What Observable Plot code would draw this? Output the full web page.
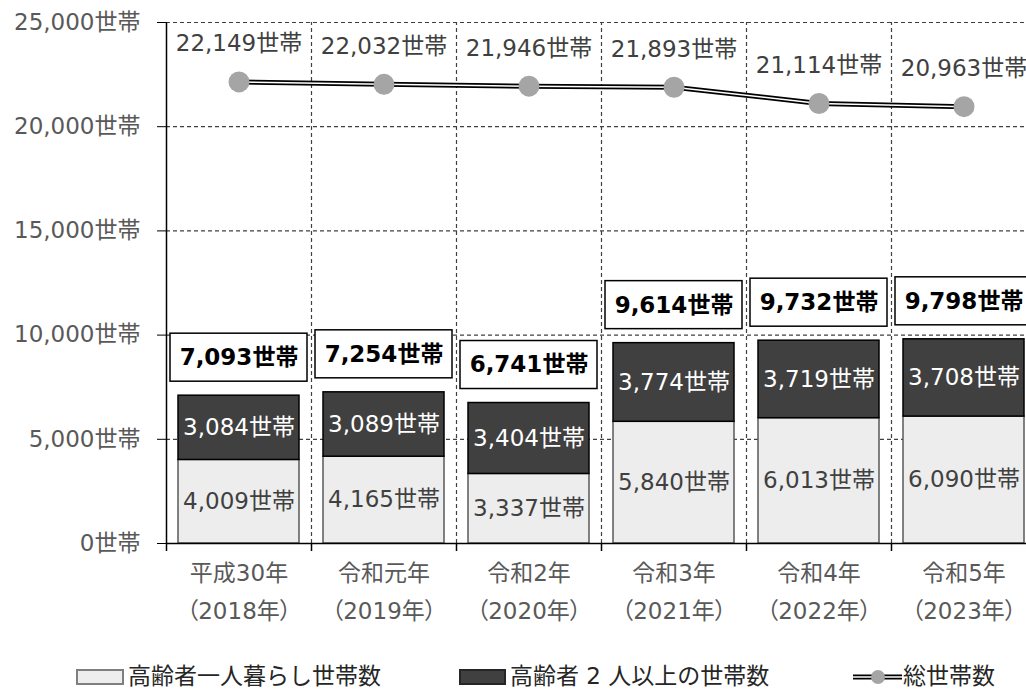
<!DOCTYPE html>
<html>
<head>
<meta charset="utf-8">
<script src="https://cdn.jsdelivr.net/npm/d3@7"></script>
<script src="https://cdn.jsdelivr.net/npm/@observablehq/plot@0.6"></script>
<style>
  body { margin: 0; background: white; }
  #wrap { position: relative; width: 1026px; height: 690px; overflow: hidden; font-family: 'DejaVu Sans', 'Noto Sans CJK JP', sans-serif; }
  .lg { position: absolute; font-size: 23px; color: #262626; font-family: 'DejaVu Sans', 'Noto Sans CJK JP', sans-serif; line-height: 1; white-space: nowrap; }
  .sw { position: absolute; box-sizing: border-box; }
</style>
</head>
<body>
<div id="wrap"></div>
<script>
const categories = ["平成30年", "令和元年", "令和2年", "令和3年", "令和4年", "令和5年"];
const years = ["（2018年）", "（2019年）", "（2020年）", "（2021年）", "（2022年）", "（2023年）"];
const single = [4009, 4165, 3337, 5840, 6013, 6090];
const multi = [3084, 3089, 3404, 3774, 3719, 3708];
const elderlyTotal = [7093, 7254, 6741, 9614, 9732, 9798];
const households = [22149, 22032, 21946, 21893, 21114, 20963];
const yTicks = [0, 5000, 10000, 15000, 20000, 25000];

const fmt = d3.format(",");
const rows = categories.map((c, i) => ({
  cat: c, year: years[i], single: single[i], multi: multi[i],
  elderly: elderlyTotal[i], total: households[i],
  stackTop: single[i] + multi[i]
}));
const font = "'DejaVu Sans', 'Noto Sans CJK JP', sans-serif";
const band = 145;

const chart = Plot.plot({
  width: 1026,
  height: 640,
  marginLeft: 166,
  marginTop: 22,
  marginBottom: 97,
  marginRight: 0,
  style: { fontFamily: font, background: "white", overflow: "hidden" },
  x: { domain: categories, range: [166, 166 + band * categories.length], padding: 0, axis: null },
  y: { domain: [0, 25000], axis: null },
  marks: [
    // horizontal dashed gridlines
    Plot.ruleY(yTicks.filter(d => d > 0), { stroke: "#404040", strokeWidth: 1.2, strokeDasharray: "4,3" }),
    // vertical dashed separators
    Plot.ruleX(categories.slice(1), { dx: -band / 2, y1: 0, y2: 25000, stroke: "#404040", strokeWidth: 1.2, strokeDasharray: "4,3" }),
    // y axis
    Plot.axisY({ ticks: yTicks, tickFormat: d => fmt(d) + "世帯", tickSize: 9, tickPadding: 17, fontSize: 23, fill: "#595959", stroke: "black" }),
    // bars
    Plot.barY(rows, { x: "cat", y1: 0, y2: "single", fill: "#ededed", stroke: "#595959", strokeWidth: 1.5, insetLeft: 12, insetRight: 12 }),
    Plot.barY(rows, { x: "cat", y1: "single", y2: "stackTop", fill: "#404040", stroke: "black", strokeWidth: 1.5, insetLeft: 12, insetRight: 12 }),
    Plot.text(rows, { x: "cat", y: d => d.single / 2, text: d => fmt(d.single) + "世帯", fontSize: 23, fill: "#404040" }),
    Plot.text(rows, { x: "cat", y: d => d.single + d.multi / 2, text: d => fmt(d.multi) + "世帯", fontSize: 23, fill: "white" }),
    // total elderly boxes
    Plot.barY(rows, { x: "cat", y1: "elderly", y2: "elderly", insetTop: -62, insetBottom: 14, insetLeft: 4, insetRight: 4, fill: "white", stroke: "black", strokeWidth: 1.5 }),
    Plot.text(rows, { x: "cat", y: "elderly", dy: -38, text: d => fmt(d.elderly) + "世帯", fontSize: 23, fontWeight: "bold", fill: "black" }),
    // axis lines and ticks
    Plot.ruleY([0], { stroke: "black", strokeWidth: 1.5 }),
    Plot.ruleX(categories, { dx: -band / 2, y1: 0, y2: 0, insetBottom: -8, stroke: "black", strokeWidth: 1.5 }),
    Plot.ruleX(categories.slice(0, 1), { dx: -band / 2, y1: 0, y2: 25000, stroke: "black", strokeWidth: 1.5 }),
    // total households double line
    Plot.line(rows, { x: "cat", y: "total", stroke: "black", strokeWidth: 5 }),
    Plot.line(rows, { x: "cat", y: "total", stroke: "white", strokeWidth: 1.5 }),
    Plot.dot(rows, { x: "cat", y: "total", r: 10.5, fill: "#a5a5a5" }),
    Plot.text(rows, { x: "cat", y: "total", dy: -38, text: d => fmt(d.total) + "世帯", fontSize: 23, fill: "#404040" }),
    // x labels
    Plot.text(rows, { x: "cat", frameAnchor: "bottom", dy: 37, text: "cat", fontSize: 23, fill: "#595959" }),
    Plot.text(rows, { x: "cat", frameAnchor: "bottom", dy: 75, text: "year", fontSize: 23, fill: "#595959" })
  ]
});

// proportional (half-width) parentheses for the year labels
d3.select(chart).selectAll("text")
  .filter(function () { return this.textContent.includes("（"); })
  .style("font-feature-settings", "'palt'");

const wrap = document.getElementById("wrap");
chart.style.position = "absolute";
chart.style.left = "0px";
chart.style.top = "0px";
wrap.appendChild(chart);

// legend
const legendHTML = `
  <div class="sw" style="left:76px;top:669px;width:48px;height:16px;background:#ededed;border:2px solid #7f7f7f;"></div>
  <div class="lg" style="left:128px;top:665px;">高齢者一人暮らし世帯数</div>
  <div class="sw" style="left:459px;top:669px;width:47px;height:16px;background:#404040;border:2px solid #262626;"></div>
  <div class="lg" style="left:510px;top:665px;">高齢者 2 人以上の世帯数</div>
  <svg style="position:absolute;left:850px;top:665px;" width="54" height="24">
    <line x1="3" y1="12" x2="52" y2="12" stroke="black" stroke-width="5"/>
    <line x1="3" y1="12" x2="52" y2="12" stroke="white" stroke-width="1.5"/>
    <circle cx="28" cy="12" r="7" fill="#a5a5a5"/>
  </svg>
  <div class="lg" style="left:903px;top:665px;">総世帯数</div>
`;
wrap.insertAdjacentHTML("beforeend", legendHTML);
</script>
</body>
</html>
